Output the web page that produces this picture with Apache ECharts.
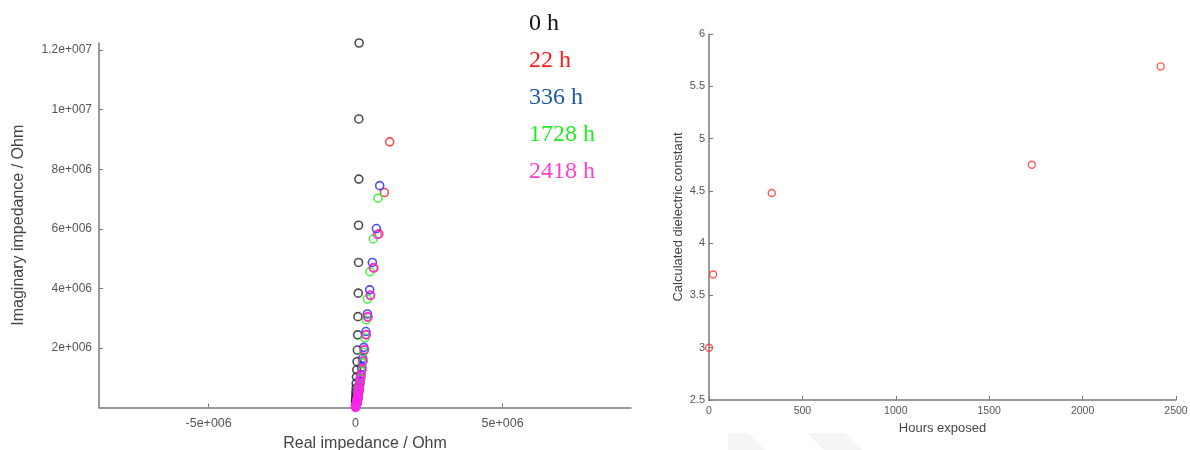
<!DOCTYPE html>
<html>
<head>
<meta charset="utf-8">
<script src="https://cdn.jsdelivr.net/npm/echarts@6/dist/echarts.min.js"></script>
<style>
  html, body { margin: 0; padding: 0; background: #fff; }
  #chart { width: 1190px; height: 450px; }
</style>
</head>
<body>
<div id="chart"></div>
<script>
// left panel: Nyquist plot, one array pair per exposure time (Ohm)
var seriesNames = ['0 h', '22 h', '336 h', '1728 h', '2418 h'];
var seriesColors = ['#222222', '#ff2020', '#2020ff', '#22ee22', '#ff22ee'];
var legendColors = ['#111111', '#ff1a1a', '#1f5aa6', '#22ee22', '#ff3fd0'];

var real0 = [0.12e6, 0.11e6, 0.11e6, 0.10e6, 0.10e6, 0.09e6, 0.08e6, 0.07e6, 0.06e6, 0.05e6, 0.04e6, 0.03e6, 0.02e6, 0.02e6, 0.01e6, 0.01e6, 0.01e6, 0.0, 0.0, 0.0, 0.0, 0.0, 0.0, 0.0];
var imag0 = [12.24e6, 9.69e6, 7.67e6, 6.12e6, 4.87e6, 3.84e6, 3.05e6, 2.44e6, 1.93e6, 1.54e6, 1.26e6, 1.03e6, 0.81e6, 0.65e6, 0.52e6, 0.41e6, 0.33e6, 0.26e6, 0.20e6, 0.16e6, 0.12e6, 0.09e6, 0.07e6, 0.05e6];

var real22 = [1.16e6, 0.98e6, 0.79e6, 0.62e6, 0.51e6, 0.42e6, 0.36e6, 0.30e6, 0.25e6, 0.21e6, 0.18e6, 0.15e6, 0.13e6, 0.11e6, 0.09e6, 0.08e6, 0.07e6, 0.06e6, 0.05e6, 0.04e6, 0.03e6, 0.02e6];
var imag22 = [8.92e6, 7.22e6, 5.83e6, 4.68e6, 3.76e6, 3.03e6, 2.44e6, 1.93e6, 1.55e6, 1.25e6, 1.00e6, 0.80e6, 0.64e6, 0.51e6, 0.41e6, 0.33e6, 0.26e6, 0.21e6, 0.17e6, 0.13e6, 0.10e6, 0.08e6];

var real336 = [0.82e6, 0.71e6, 0.57e6, 0.48e6, 0.40e6, 0.35e6, 0.28e6, 0.24e6, 0.21e6, 0.18e6, 0.15e6, 0.13e6, 0.11e6, 0.09e6, 0.08e6, 0.07e6, 0.06e6, 0.05e6, 0.04e6, 0.03e6, 0.02e6];
var imag336 = [7.45e6, 6.01e6, 4.87e6, 3.95e6, 3.14e6, 2.55e6, 2.02e6, 1.65e6, 1.36e6, 1.10e6, 0.88e6, 0.70e6, 0.56e6, 0.45e6, 0.36e6, 0.29e6, 0.23e6, 0.18e6, 0.14e6, 0.11e6, 0.09e6];

var real1728 = [0.76e6, 0.60e6, 0.49e6, 0.40e6, 0.37e6, 0.32e6, 0.27e6, 0.23e6, 0.20e6, 0.17e6, 0.14e6, 0.12e6, 0.10e6, 0.09e6, 0.07e6, 0.06e6, 0.05e6, 0.04e6, 0.03e6, 0.02e6, 0.02e6];
var imag1728 = [7.03e6, 5.66e6, 4.56e6, 3.64e6, 2.94e6, 2.34e6, 1.86e6, 1.50e6, 1.21e6, 0.97e6, 0.78e6, 0.62e6, 0.50e6, 0.40e6, 0.32e6, 0.25e6, 0.20e6, 0.16e6, 0.13e6, 0.10e6, 0.08e6];

var real2418 = [0.74e6, 0.60e6, 0.50e6, 0.41e6, 0.35e6, 0.30e6, 0.25e6, 0.21e6, 0.18e6, 0.16e6, 0.15e6, 0.14e6, 0.13e6, 0.12e6, 0.11e6, 0.10e6, 0.09e6, 0.085e6, 0.08e6, 0.07e6, 0.065e6, 0.06e6, 0.05e6, 0.045e6, 0.04e6, 0.035e6, 0.03e6, 0.025e6, 0.02e6, 0.015e6, 0.01e6, 0.008e6, 0.005e6, 0.0];
var imag2418 = [5.81e6, 4.70e6, 3.78e6, 3.05e6, 2.45e6, 1.95e6, 1.57e6, 1.27e6, 1.10e6, 1.02e6, 0.92e6, 0.83e6, 0.75e6, 0.67e6, 0.60e6, 0.54e6, 0.49e6, 0.44e6, 0.40e6, 0.36e6, 0.32e6, 0.29e6, 0.26e6, 0.24e6, 0.21e6, 0.19e6, 0.15e6, 0.12e6, 0.10e6, 0.08e6, 0.06e6, 0.04e6, 0.02e6, 0.0];

var realSets = [real0, real22, real336, real1728, real2418];
var imagSets = [imag0, imag22, imag336, imag1728, imag2418];

var leftXTicks = [-5e6, 0, 5e6];
var leftYTicks = [2e6, 4e6, 6e6, 8e6, 10e6, 12e6];

// right panel: dielectric constant vs exposure
var hoursExposed = [0, 22, 336, 1728, 2418];
var dielectric = [3.0, 3.70, 4.48, 4.75, 5.69];

function fmtE(v) {
  if (v === 0) return '0';
  return v.toExponential().replace(/e([+-])(\d+)$/, function (m, s, d) {
    return 'e' + s + ('000' + d).slice(-3);
  });
}

function pairs(xs, ys) {
  return xs.map(function (x, i) { return [x, ys[i]]; });
}

var axisGray = '#7a7a7a';
var labelGray = '#555';

var series = seriesNames.map(function (name, i) {
  return {
    name: name,
    type: 'scatter',
    xAxisIndex: 0,
    yAxisIndex: 0,
    symbol: 'circle',
    symbolSize: 8,
    itemStyle: { color: 'rgba(0,0,0,0)', borderColor: seriesColors[i], borderWidth: 1.6 },
    data: pairs(realSets[i], imagSets[i])
  };
});

series.push({
  name: 'dielectric',
  type: 'scatter',
  xAxisIndex: 1,
  yAxisIndex: 1,
  symbol: 'circle',
  symbolSize: 7,
  itemStyle: { color: 'rgba(0,0,0,0)', borderColor: '#ff3030', borderWidth: 1.4 },
  data: pairs(hoursExposed, dielectric)
});

var option = {
  backgroundColor: '#fff',
  animation: false,
  legend: {
    orient: 'vertical',
    left: 519,
    top: 6,
    icon: 'none',
    itemWidth: 0,
    itemHeight: 14,
    itemGap: 11,
    selectedMode: false,
    textStyle: { fontFamily: 'Liberation Serif', fontSize: 24, lineHeight: 26 },
    data: seriesNames.map(function (n, i) {
      return { name: n, textStyle: { color: legendColors[i] } };
    })
  },
  // faint watermark shapes at the bottom of the right panel
  graphic: [
    { type: 'polygon', silent: true, shape: { points: [[728, 433], [748, 433], [765, 450], [728, 450]] }, style: { fill: '#f5f5f5' } },
    { type: 'polygon', silent: true, shape: { points: [[807, 433], [845, 433], [862, 450], [824, 450]] }, style: { fill: '#f5f5f5' } }
  ],
  grid: [
    { left: 99, right: 559, top: 43, bottom: 42.5, outerBoundsMode: 'none' },
    { left: 709, right: 14, top: 34, bottom: 50, outerBoundsMode: 'none' }
  ],
  xAxis: [
    {
      gridIndex: 0,
      type: 'value',
      min: -8.73e6,
      max: 9.37e6,
      name: 'Real impedance / Ohm',
      nameLocation: 'middle',
      nameGap: 26,
      nameTextStyle: { fontFamily: 'Liberation Sans', fontSize: 16, color: '#444' },
      axisLine: { show: true, onZero: false, lineStyle: { color: axisGray, width: 1.5 } },
      axisTick: { show: true, inside: true, length: 4, customValues: leftXTicks, lineStyle: { color: axisGray } },
      axisLabel: { customValues: leftXTicks, formatter: fmtE, margin: 10, fontFamily: 'Liberation Sans', fontSize: 12.5, color: labelGray },
      splitLine: { show: false }
    },
    {
      gridIndex: 1,
      type: 'value',
      min: 0,
      max: 2500,
      interval: 500,
      name: 'Hours exposed',
      nameLocation: 'middle',
      nameGap: 22,
      nameTextStyle: { fontFamily: 'Liberation Sans', fontSize: 13, color: '#444' },
      axisLine: { show: true, onZero: false, lineStyle: { color: axisGray, width: 1.5 } },
      axisTick: { show: true, inside: true, length: 4, lineStyle: { color: axisGray } },
      axisLabel: { margin: 6, fontFamily: 'Liberation Sans', fontSize: 10.5, color: labelGray, formatter: function (v) { return String(v); } },
      splitLine: { show: false }
    }
  ],
  yAxis: [
    {
      gridIndex: 0,
      type: 'value',
      min: 0,
      max: 12.24e6,
      name: 'Imaginary impedance / Ohm',
      nameLocation: 'middle',
      nameGap: 72,
      nameTextStyle: { fontFamily: 'Liberation Sans', fontSize: 16, color: '#444' },
      axisLine: { show: true, onZero: false, lineStyle: { color: axisGray, width: 1.5 } },
      axisTick: { show: true, inside: true, length: 4, customValues: leftYTicks, lineStyle: { color: axisGray } },
      axisLabel: { customValues: leftYTicks, formatter: fmtE, margin: 7, fontFamily: 'Liberation Sans', fontSize: 12, color: labelGray },
      splitLine: { show: false }
    },
    {
      gridIndex: 1,
      type: 'value',
      min: 2.5,
      max: 6,
      interval: 0.5,
      name: 'Calculated dielectric constant',
      nameLocation: 'middle',
      nameGap: 24,
      nameTextStyle: { fontFamily: 'Liberation Sans', fontSize: 13, color: '#444' },
      axisLine: { show: true, onZero: false, lineStyle: { color: axisGray, width: 1.5 } },
      axisTick: { show: true, inside: true, length: 4, lineStyle: { color: axisGray } },
      axisLabel: { margin: 4, fontFamily: 'Liberation Sans', fontSize: 11, color: labelGray },
      splitLine: { show: false }
    }
  ],
  series: series
};

var chart = echarts.init(document.getElementById('chart'));
chart.setOption(option);
</script>
</body>
</html>
